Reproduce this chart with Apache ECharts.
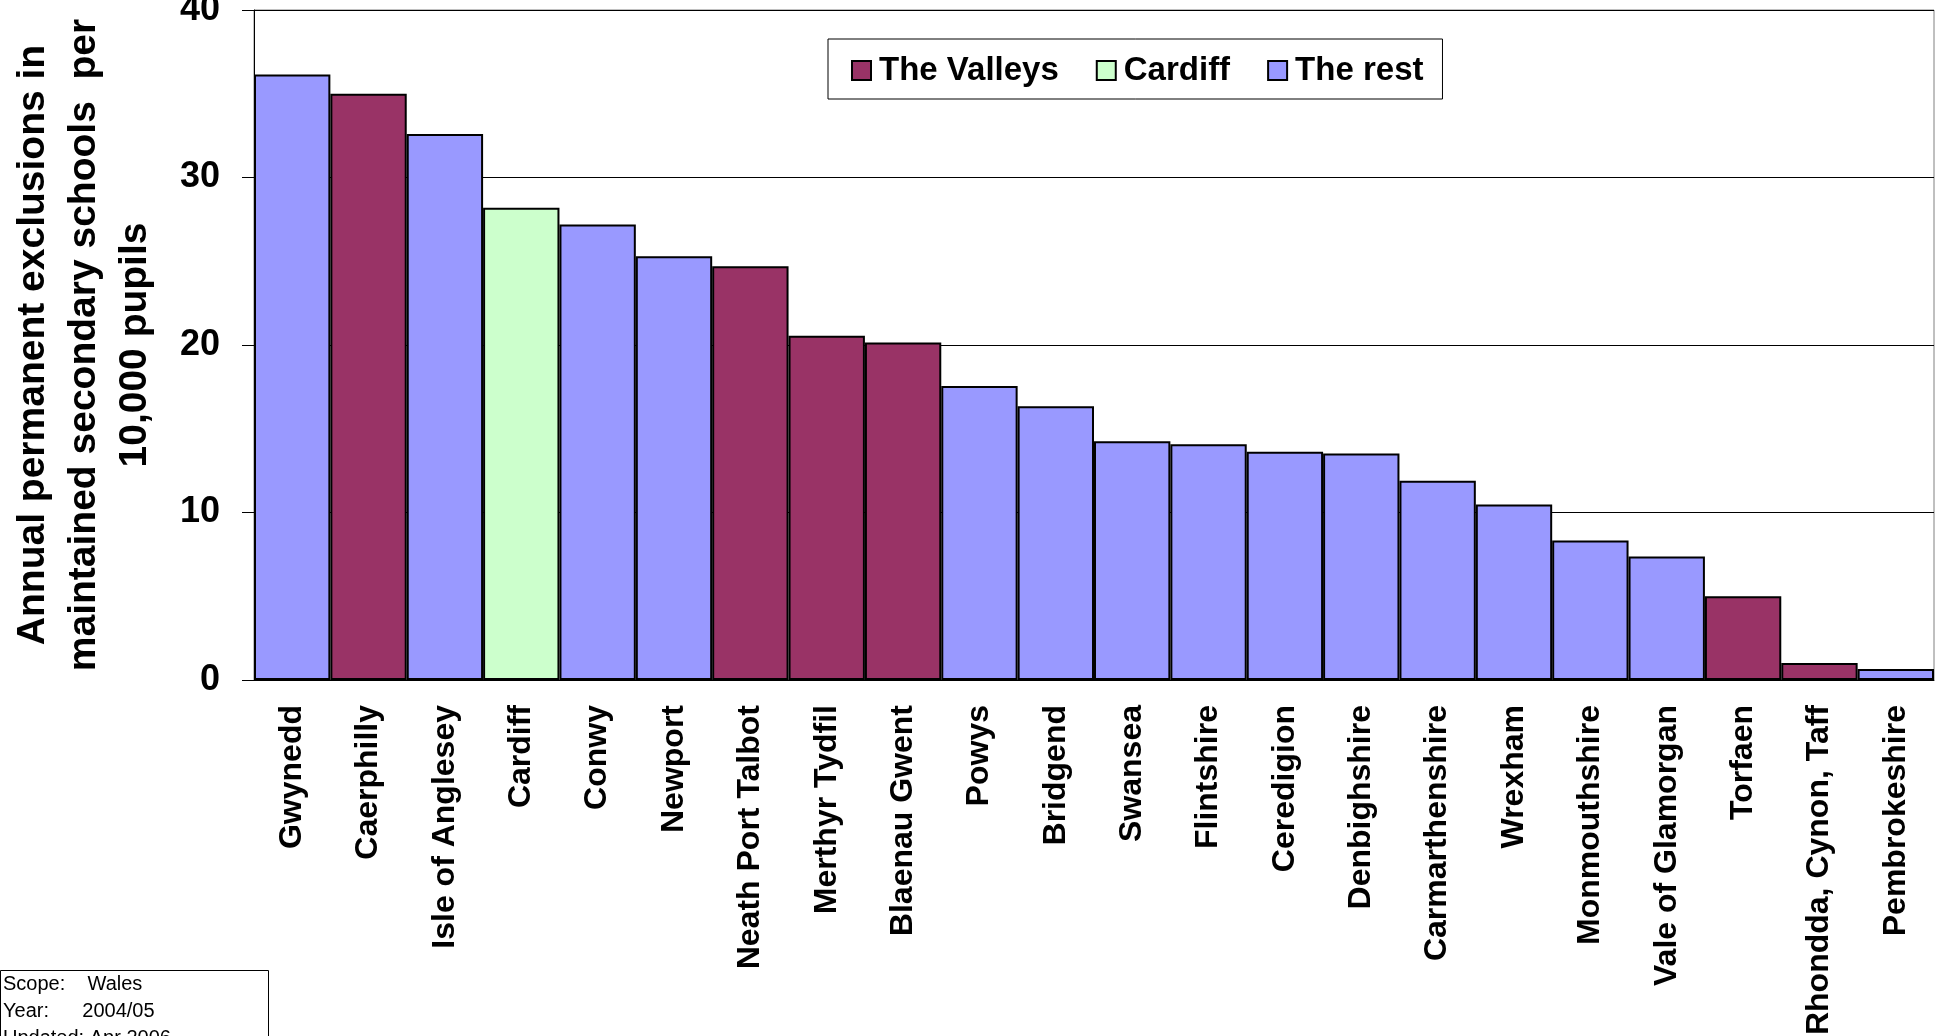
<!DOCTYPE html>
<html>
<head>
<meta charset="utf-8">
<script src="https://cdn.jsdelivr.net/npm/echarts@6/dist/echarts.min.js"></script>
<style>
html,body{margin:0;padding:0;background:#fff;}
#chart{width:1935px;height:1036px;}
</style>
</head>
<body>
<div id="chart"></div>
<script>
const categories = ["Gwynedd","Caerphilly","Isle of Anglesey","Cardiff","Conwy","Newport","Neath Port Talbot","Merthyr Tydfil","Blaenau Gwent","Powys","Bridgend","Swansea","Flintshire","Ceredigion","Denbighshire","Carmarthenshire","Wrexham","Monmouthshire","Vale of Glamorgan","Torfaen","Rhondda, Cynon, Taff","Pembrokeshire"];
const values = [36.15, 35.0, 32.6, 28.2, 27.2, 25.3, 24.7, 20.55, 20.15, 17.55, 16.35, 14.25, 14.07, 13.63, 13.52, 11.9, 10.48, 8.33, 7.37, 5.0, 1.02, 0.66];
const groups = ["rest","valleys","rest","cardiff","rest","rest","valleys","valleys","valleys","rest","rest","rest","rest","rest","rest","rest","rest","rest","rest","valleys","valleys","rest"];
const seriesNames = ["The Valleys","Cardiff","The rest"];
const seriesKeys = ["valleys","cardiff","rest"];
const seriesColors = ["#993366","#CCFFCC","#9999FF"];
const yTicks = [0, 10, 20, 30, 40];
const yTitle = "Annual permanent exclusions in\nmaintained secondary schools  per\n10,000 pupils";
const noteLines = ["Scope:    Wales", "Year:      2004/05", "Updated: Apr 2006"];

const FONT = "Liberation Sans, Arial, sans-serif";
const chart = echarts.init(document.getElementById('chart'), null, {renderer:'canvas'});

const series = seriesKeys.map((k, si) => ({
  name: seriesNames[si],
  type: 'bar',
  stack: 'all',
  barCategoryGap: 0,
  itemStyle: { color: seriesColors[si], borderColor: '#000', borderWidth: 2 },
  emphasis: { disabled: true },
  data: values.map((v, i) => groups[i] === k ? v : '-')
}));

chart.setOption({
  animation: false,
  backgroundColor: '#fff',
  grid: { left: 254, right: 1, top: 10, bottom: 356, containLabel: false, outerBoundsMode: 'none',
          show: true, borderColor: '#808080', borderWidth: 1 },
  legend: {
    left: 828, top: 39,
    padding: [15, 19, 12, 23],
    itemWidth: 19, itemHeight: 19, itemGap: 37,
    borderColor: '#000', borderWidth: 1,
    icon: 'rect',
    itemStyle: { borderColor: '#000', borderWidth: 2 },
    textStyle: { fontFamily: FONT, fontWeight: 'bold', fontSize: 33, color: '#000', padding: [0, 0, 0, 3] },
    data: seriesNames
  },
  xAxis: {
    type: 'category',
    data: categories,
    axisLine: { lineStyle: { color: '#000', width: 1 } },
    axisTick: { length: 10, lineStyle: { color: '#000' } },
    axisLabel: { rotate: 90, interval: 0, margin: 25, fontFamily: FONT, fontWeight: 'bold', fontSize: 32, color: '#000' }
  },
  yAxis: {
    type: 'value',
    min: 0, max: 40, interval: 10,
    name: yTitle,
    nameLocation: 'middle',
    nameGap: 93,
    nameTextStyle: { fontFamily: FONT, fontWeight: 'bold', fontSize: 39, lineHeight: 51, color: '#000', align: 'center' },
    axisLine: { show: true, lineStyle: { color: '#000', width: 1 } },
    axisTick: { show: true, length: 12, lineStyle: { color: '#000' } },
    axisLabel: { margin: 34, fontFamily: FONT, fontWeight: 'bold', fontSize: 36, color: '#000',
      formatter: v => yTicks.includes(v) ? String(v) : '' },
    splitLine: { show: true, lineStyle: { color: '#000', width: 1 } }
  },
  graphic: [
    { type: 'rect', left: 0, top: 970, shape: { width: 268, height: 80 }, style: { fill: '#fff', stroke: '#000', lineWidth: 1 } },
    { type: 'text', left: 3, top: 971, style: { text: noteLines.join('\n'), font: '20px ' + FONT, lineHeight: 27, fill: '#000' } }
  ],
  series: series
});
</script>
</body>
</html>
